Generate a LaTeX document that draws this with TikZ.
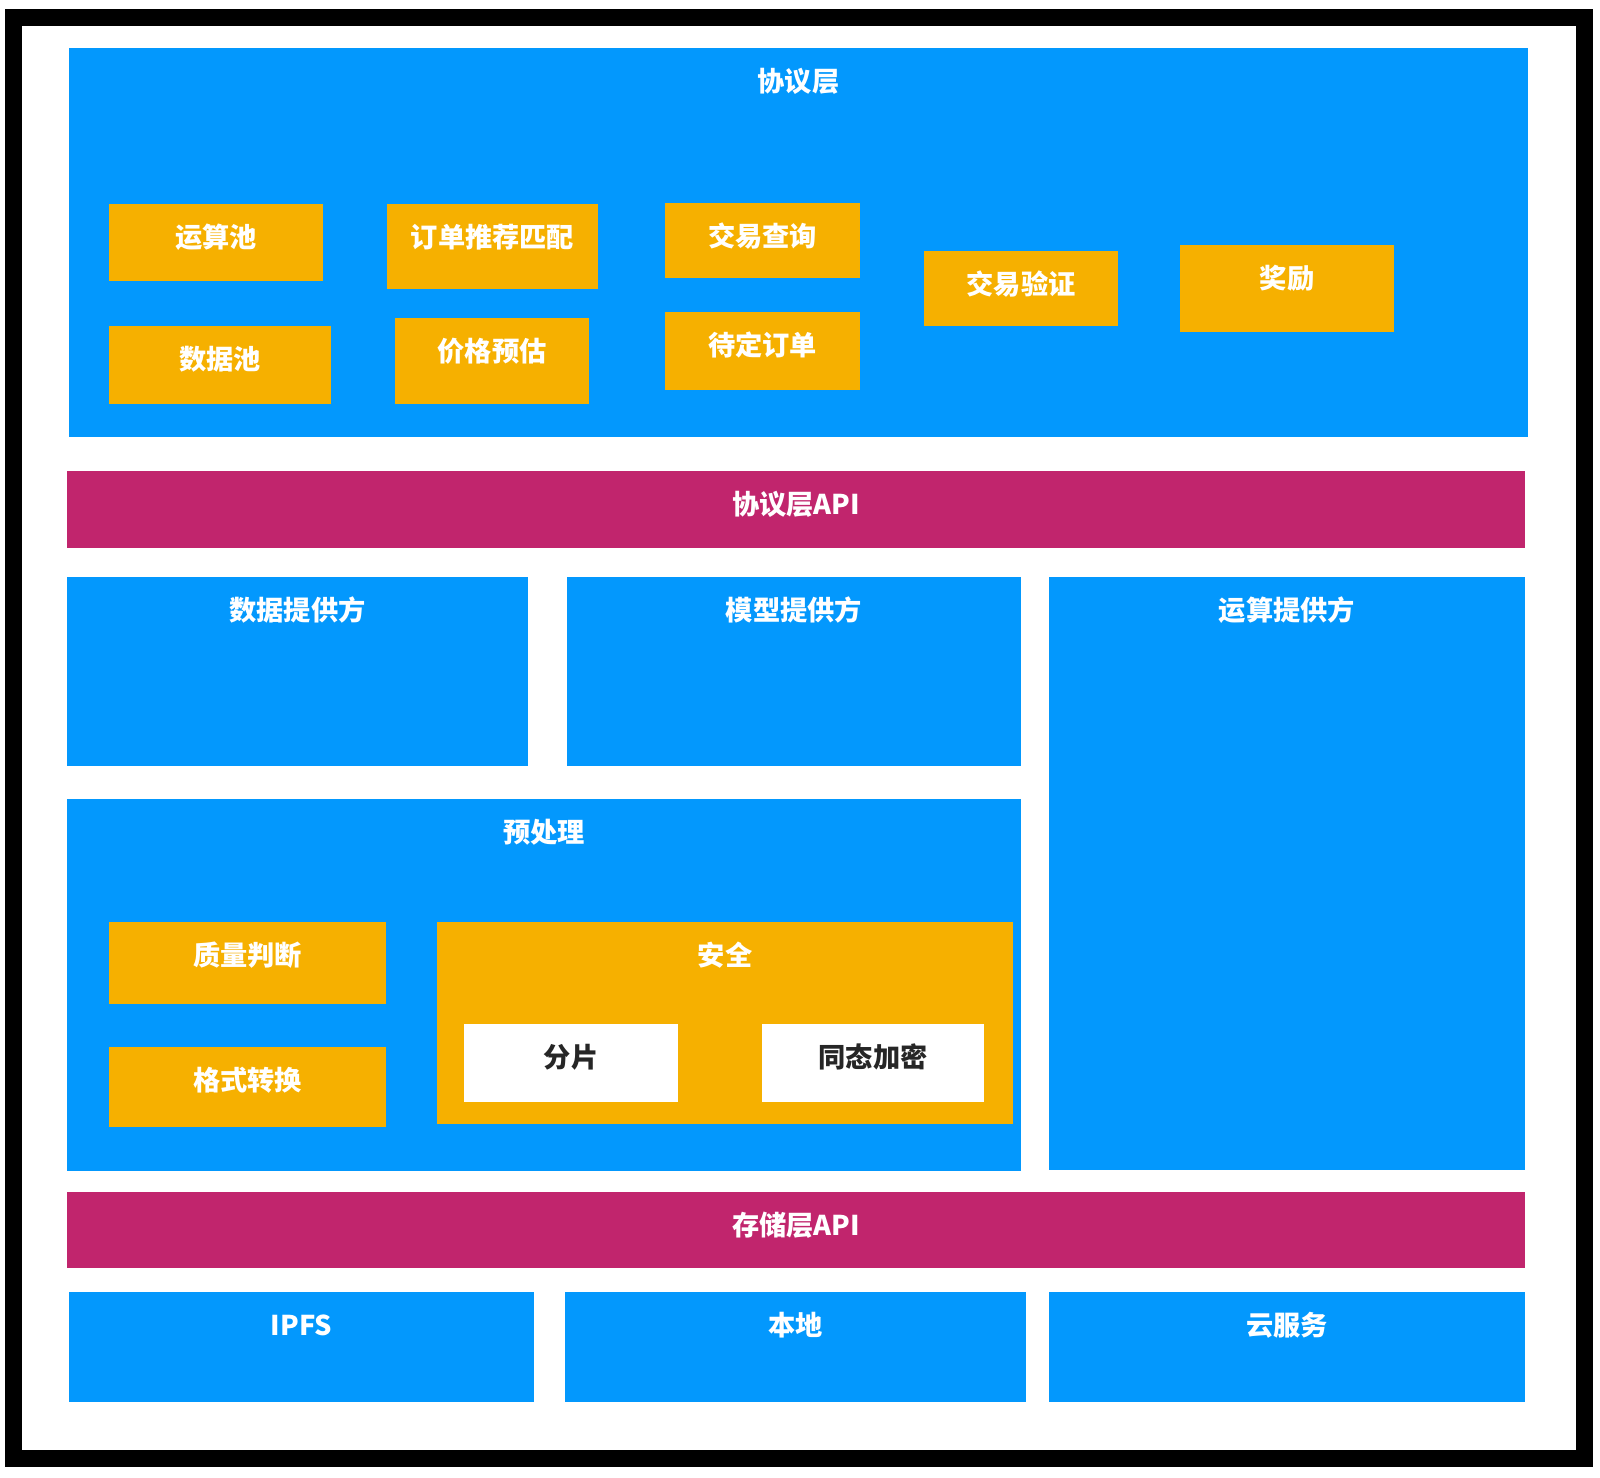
\documentclass[tikz,border=0pt]{standalone}
\usepackage{fontspec}
\newfontfamily\cjk{Noto Sans CJK SC}
\usetikzlibrary{fit}
\definecolor{layerblue}{RGB}{3,152,253}
\definecolor{modorange}{RGB}{246,176,0}
\definecolor{apired}{RGB}{193,37,109}
\tikzset{
  every picture/.style={line width=0.8pt},
  frame/.style={draw=black, line width=0.34cm, inner sep=0pt, miter limit=10},
  layer/.style={fill=layerblue, inner sep=0pt},
  module/.style={fill=modorange, inner sep=0pt},
  api/.style={fill=apired, inner sep=0pt},
  leaf/.style={fill=white, inner sep=0pt},
  title/.style={font=\cjk\bfseries\fontsize{15.5}{18}\selectfont, text=white, inner sep=0pt},
  tag/.style={label={[title, anchor=center, yshift=-0.68cm]north:#1}},
  darktag/.style={label={[title, text=black!85, anchor=center, yshift=-0.68cm]north:#1}}
}

\begin{document}
\begin{tikzpicture}[x=0.02cm, y=-0.02cm]
    \fill[white] (0,0) rectangle (1600,1478);
    \useasboundingbox (0,0) rectangle (1600,1478);
    \node [frame, fit={(13.7,17.7) (1584.4,1458.5)}] (frame) {};

    \begin{scope}
      \node [layer, tag=协议层, fit={(69,48) (1528,437)}] (proto) {};
      \node [module, tag=运算池, fit={(109,204) (323,281)}] (pool1) {};
      \node [module, tag=数据池, fit={(109,326) (331,404)}] (pool2) {};
      \node [module, tag=订单推荐匹配, fit={(387,204) (598,289)}] (match) {};
      \node [module, tag=价格预估, fit={(395,318) (589,404)}] (price) {};
      \node [module, tag=交易查询, fit={(665,203) (860,278)}] (query) {};
      \node [module, tag=待定订单, fit={(665,312) (860,390)}] (pending) {};
      \node [module, tag=交易验证, fit={(924,251) (1118,326)}] (verify) {};
      \node [module, tag=奖励, fit={(1180,245) (1394,332)}] (reward) {};
    \end{scope}

    \node [api, tag=协议层API, fit={(67,471) (1525,548)}] (protoapi) {};

    \begin{scope}
      \node [layer, tag=数据提供方, fit={(67,577) (528,766)}] (dataprov) {};
      \node [layer, tag=模型提供方, fit={(567,577) (1021,766)}] (modelprov) {};
      \node [layer, tag=运算提供方, fit={(1049,577) (1525,1170)}] (compprov) {};
      \node [layer, tag=预处理, fit={(67,799) (1021,1171)}] (prep) {};
      \node [module, tag=质量判断, fit={(109,922) (386,1004)}] (quality) {};
      \node [module, tag=格式转换, fit={(109,1047) (386,1127)}] (format) {};
      \node [module, tag=安全, fit={(437,922) (1013,1124)}] (secure) {};
      \node [leaf, darktag=分片, fit={(464,1024) (678,1102)}] (shard) {};
      \node [leaf, darktag=同态加密, fit={(762,1024) (984,1102)}] (homo) {};
    \end{scope}

    \node [api, tag=存储层API, fit={(67,1192) (1525,1268)}] (storeapi) {};

    \begin{scope}
      \node [layer, tag=IPFS, fit={(69,1292) (534,1402)}] (ipfs) {};
      \node [layer, tag=本地, fit={(565,1292) (1026,1402)}] (local) {};
      \node [layer, tag=云服务, fit={(1049,1292) (1525,1402)}] (cloud) {};
    \end{scope}
  \end{tikzpicture}
\end{document}
